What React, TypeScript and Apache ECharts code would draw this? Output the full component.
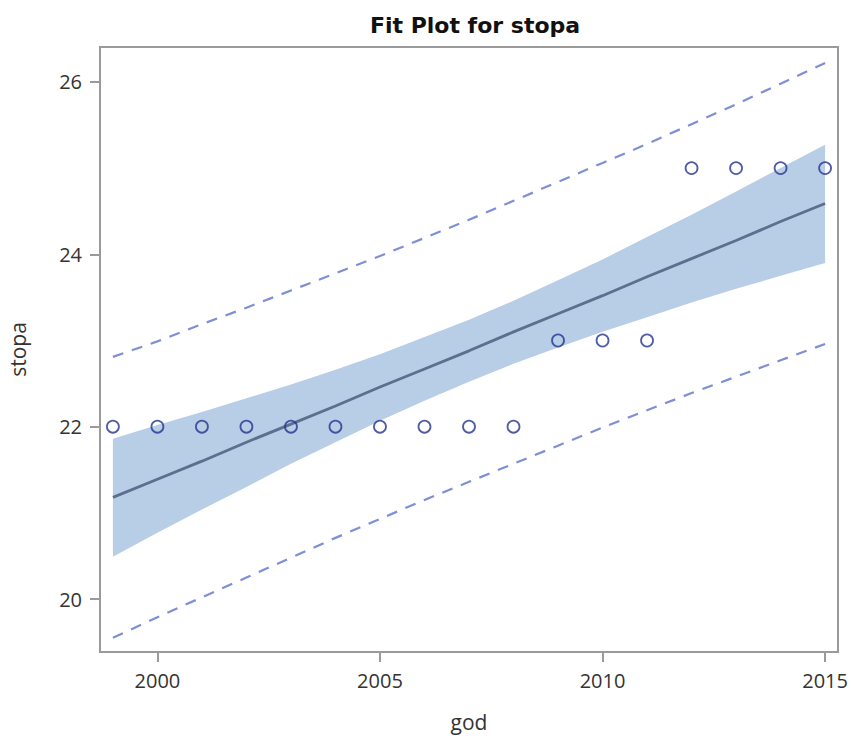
import React, { useEffect, useRef } from "react";
import * as echarts from "echarts";

const years = [1999, 2000, 2001, 2002, 2003, 2004, 2005, 2006, 2007, 2008, 2009, 2010, 2011, 2012, 2013, 2014, 2015];
const stopa = [22, 22, 22, 22, 22, 22, 22, 22, 22, 22, 23, 23, 23, 25, 25, 25, 25];
const fitLine = [21.18, 21.39, 21.6, 21.82, 22.03, 22.24, 22.46, 22.67, 22.88, 23.1, 23.31, 23.52, 23.74, 23.95, 24.16, 24.38, 24.59];
const clLower = [20.49, 20.77, 21.04, 21.3, 21.57, 21.82, 22.07, 22.3, 22.52, 22.73, 22.92, 23.1, 23.27, 23.44, 23.6, 23.75, 23.9];
const clUpper = [21.86, 22.02, 22.17, 22.33, 22.49, 22.66, 22.84, 23.04, 23.24, 23.46, 23.7, 23.94, 24.2, 24.46, 24.73, 25.0, 25.27];
const plLower = [19.55, 19.79, 20.02, 20.25, 20.48, 20.71, 20.93, 21.15, 21.36, 21.57, 21.78, 21.99, 22.19, 22.39, 22.58, 22.77, 22.96];
const plUpper = [22.81, 22.99, 23.19, 23.38, 23.58, 23.78, 23.98, 24.19, 24.4, 24.62, 24.84, 25.06, 25.28, 25.51, 25.74, 25.98, 26.22];
const xTicks = [2000, 2005, 2010, 2015];
const yTicks = [20, 22, 24, 26];

const FONT = "'Open Sans', 'Noto Sans', sans-serif";

export default function App() {
  const ref = useRef<HTMLDivElement>(null);
  useEffect(() => {
    if (!ref.current) return;
    const chart = echarts.init(ref.current, undefined, { renderer: "svg" });
    const pair = (arr: number[]) => years.map((x, i) => [x, arr[i]]);
    const axisCommon = {
      axisLine: { show: true, lineStyle: { color: "#9a9a9a", width: 2 } },
      axisTick: { show: true, inside: false, length: 10, lineStyle: { color: "#9a9a9a", width: 2 } },
      splitLine: { show: false },
      nameMoveOverlap: false,
      nameTextStyle: { fontFamily: FONT, fontSize: 21, color: "#333" },
    };
    chart.setOption({
      animation: false,
      backgroundColor: "#fff",
      title: {
        text: "Fit Plot for stopa",
        left: 470,
        textAlign: "center",
        top: 9,
        textStyle: { fontFamily: "'DejaVu Sans', sans-serif", fontSize: 22, fontWeight: "bold", color: "#111" },
      },
      grid: {
        left: 100,
        right: 13,
        top: 47,
        bottom: 86,
        containLabel: false,
        outerBoundsMode: "none",
        show: true,
        borderColor: "#9a9a9a",
        borderWidth: 2,
        backgroundColor: "transparent",
      },
      xAxis: {
        type: "value",
        min: 1998.71,
        max: 2015.29,
        name: "god",
        nameLocation: "middle",
        nameGap: 59,
        ...axisCommon,
        axisTick: { ...axisCommon.axisTick, customValues: xTicks },
        axisLabel: {
          customValues: xTicks,
          margin: 18,
          fontFamily: FONT,
          fontSize: 20,
          color: "#333",
          formatter: (v: number) => String(v),
        },
      },
      yAxis: {
        type: "value",
        min: 19.386,
        max: 26.405,
        name: "stopa",
        nameLocation: "middle",
        nameGap: 72,
        ...axisCommon,
        axisTick: { ...axisCommon.axisTick, customValues: yTicks },
        axisLabel: {
          customValues: yTicks,
          margin: 18,
          fontFamily: FONT,
          fontSize: 20,
          color: "#333",
          formatter: (v: number) => String(v),
        },
      },
      series: [
        {
          type: "custom",
          data: years.map((x, i) => [x, clLower[i], clUpper[i]]),
          encode: { x: 0, y: [1, 2] },
          silent: true,
          z: 1,
          renderItem: (params: any, api: any) => {
            if (params.dataIndex !== 0) return null;
            const upper = years.map((x, i) => api.coord([x, clUpper[i]]));
            const lower = years.map((x, i) => api.coord([x, clLower[i]])).reverse();
            return {
              type: "polygon",
              shape: { points: upper.concat(lower) },
              style: { fill: "#b8cde6", stroke: "none" },
            };
          },
        },
        {
          type: "line",
          data: pair(fitLine),
          symbol: "none",
          lineStyle: { color: "#5d6f8e", width: 2.8 },
          z: 3,
        },
        {
          type: "line",
          data: pair(plUpper),
          symbol: "none",
          lineStyle: { color: "#7f8fd6", width: 2.2, type: [11, 9] },
          z: 3,
        },
        {
          type: "line",
          data: pair(plLower),
          symbol: "none",
          lineStyle: { color: "#7f8fd6", width: 2.2, type: [11, 9] },
          z: 3,
        },
        {
          type: "scatter",
          data: pair(stopa),
          symbol: "circle",
          symbolSize: 12,
          itemStyle: { color: "rgba(255,255,255,0)", borderColor: "#23338f", borderWidth: 1.8 },
          z: 4,
        },
      ],
    });
    return () => chart.dispose();
  }, []);
  return <div ref={ref} style={{ width: 851, height: 738, position: "absolute", left: 0, top: 0 }} />;
}
